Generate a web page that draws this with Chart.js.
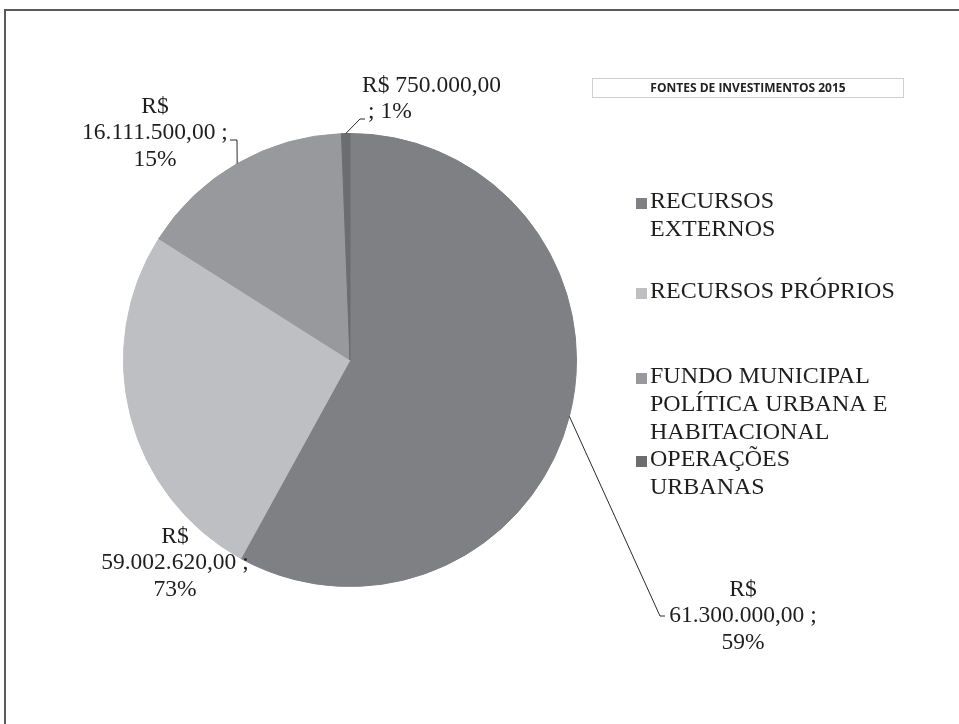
<!DOCTYPE html>
<html>
<head>
<meta charset="utf-8">
<script src="https://cdn.jsdelivr.net/npm/chart.js@4.4.0/dist/chart.umd.min.js"></script>
<style>
    html, body { margin: 0; padding: 0; background: #fff; }
    #pieChart { display: block; }
</style>
</head>
<body>
<canvas id="pieChart" width="959" height="724"></canvas>
<script>
// Data
const categories = [
    ['RECURSOS', 'EXTERNOS'],
    ['RECURSOS PRÓPRIOS'],
    ['FUNDO MUNICIPAL', 'POLÍTICA URBANA E', 'HABITACIONAL'],
    ['OPERAÇÕES', 'URBANAS']
];
const sliceShares = [58, 26, 15.4, 0.6];
const amountLabels = ['R$ 61.300.000,00', 'R$ 59.002.620,00', 'R$ 16.111.500,00', 'R$ 750.000,00'];
const percentLabels = ['59%', '73%', '15%', '1%'];
const chartTitle = 'FONTES DE INVESTIMENTOS 2015';

// Styles / layout
const sliceColors = ['#7f8084', '#bebfc3', '#98999d', '#6c6d71'];
const labelFont = '23.5px "Liberation Serif", "Times New Roman", serif';
const legendFont = '24px "Liberation Serif", "Times New Roman", serif';
const textColor = '#1e1e1e';

// how each data label is broken into lines and where it sits
const labelLayout = [
    { lines: i => ['R$', amountLabels[i].slice(3) + ' ;', percentLabels[i]], cx: 743, top: 590, align: 'center', leader: [[660, 616], [665, 616]] },
    { lines: i => ['R$', amountLabels[i].slice(3) + ' ;', percentLabels[i]], cx: 175, top: 537, align: 'center', leader: null },
    { lines: i => ['R$', amountLabels[i].slice(3) + ' ;', percentLabels[i]], cx: 155, top: 107, align: 'center', leader: [[237, 140], [230, 140]] },
    { lines: i => [amountLabels[i], '; ' + percentLabels[i]], cx: [362, 368], top: 86, align: 'left', leader: [[360, 119], [365, 119]] }
];
const labelLineHeight = 26.3;
const legendRowY = [202, 292, 377, 460];
const legendLineHeight = 27.8;

const framePlugin = {
    id: 'frame',
    beforeDraw(chart) {
        const c = chart.ctx;
        c.save();
        c.fillStyle = '#fff';
        c.fillRect(0, 0, chart.width, chart.height);
        c.strokeStyle = '#5a5a5a';
        c.lineWidth = 2;
        c.beginPath();
        c.moveTo(5, chart.height);
        c.lineTo(5, 10);
        c.lineTo(chart.width, 10);
        c.stroke();

        // title box
        c.strokeStyle = '#cfcfcf';
        c.lineWidth = 1;
        c.strokeRect(592.5, 78.5, 311, 19);
        c.fillStyle = '#222';
        c.font = 'bold 12px "Open Sans", sans-serif';
        c.textAlign = 'center';
        c.textBaseline = 'middle';
        c.fillText(chartTitle, 748, 88.5);
        c.restore();
    }
};

const labelPlugin = {
    id: 'sliceLabels',
    afterDraw(chart) {
        const c = chart.ctx;
        const arcs = chart.getDatasetMeta(0).data;
        c.save();
        c.font = labelFont;
        c.fillStyle = textColor;
        c.textBaseline = 'middle';
        arcs.forEach((arc, i) => {
            const L = labelLayout[i];
            const p = arc.getProps(['x', 'y', 'startAngle', 'endAngle', 'outerRadius'], true);
            const mid = (p.startAngle + p.endAngle) / 2;
            if (L.leader) {
                c.strokeStyle = '#2a2a2a';
                c.lineWidth = 1;
                c.beginPath();
                c.moveTo(p.x + Math.cos(mid) * p.outerRadius, p.y + Math.sin(mid) * p.outerRadius);
                L.leader.forEach(pt => c.lineTo(pt[0], pt[1]));
                c.stroke();
            }
            L.lines(i).forEach((t, k) => {
                c.textAlign = L.align;
                const x = Array.isArray(L.cx) ? L.cx[k] : L.cx;
                c.fillText(t, x, L.top + k * labelLineHeight);
            });
        });
        c.restore();
    }
};

const legendPlugin = {
    id: 'sideLegend',
    afterDraw(chart) {
        const c = chart.ctx;
        c.save();
        c.font = legendFont;
        c.textAlign = 'left';
        c.textBaseline = 'middle';
        categories.forEach((cat, i) => {
            const y0 = legendRowY[i];
            c.fillStyle = sliceColors[i];
            c.fillRect(636, y0 - 4, 11, 11);
            c.fillStyle = textColor;
            cat.forEach((t, k) => c.fillText(t, 650, y0 + k * legendLineHeight));
        });
        c.restore();
    }
};

const pieCtx = document.getElementById('pieChart').getContext('2d');
new Chart(pieCtx, {
    type: 'pie',
    data: {
        labels: categories.map(c => c.join(' ')),
        datasets: [{
            data: sliceShares,
            backgroundColor: sliceColors,
            borderColor: sliceColors,
            borderWidth: 1
        }]
    },
    options: {
        responsive: false,
        animation: false,
        layout: { padding: { left: 123, right: 382, top: 133, bottom: 137 } },
        plugins: {
            legend: { display: false },
            tooltip: { enabled: false }
        }
    },
    plugins: [framePlugin, labelPlugin, legendPlugin]
});
</script>
</body>
</html>
